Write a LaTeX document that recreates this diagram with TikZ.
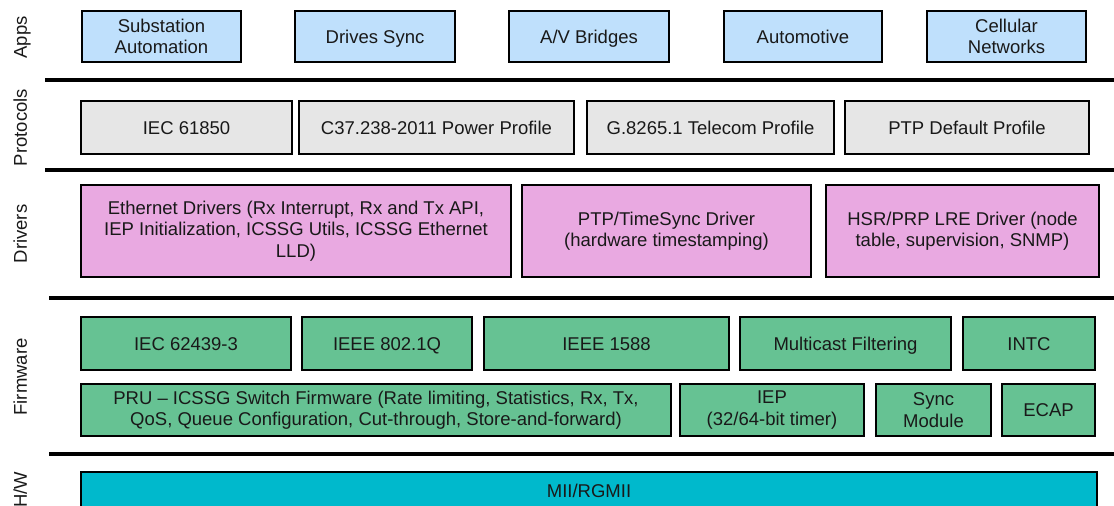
\documentclass[tikz,border=0pt]{standalone}
\usepackage{fontspec}
\setmainfont{Liberation Sans}
\definecolor{appblue}{HTML}{BFE0FC}
\definecolor{protogray}{HTML}{E6E6E6}
\definecolor{drvpink}{HTML}{E9A9E1}
\definecolor{fwgreen}{HTML}{66C293}
\definecolor{hwcyan}{HTML}{00B9CC}
\tikzset{
  layerbox/.style={draw=black, line width=2pt, inner sep=2pt, align=center,
    font=\fontsize{18.5}{21.5}\selectfont, text=black!90},
  oneline/.style={text height=13.3pt, text depth=0pt},
  appbox/.style={layerbox, fill=appblue},
  protobox/.style={layerbox, fill=protogray},
  drvbox/.style={layerbox, fill=drvpink},
  fwbox/.style={layerbox, fill=fwgreen},
  hwbox/.style={layerbox, fill=hwcyan},
  separator/.style={line width=4.5pt, black},
  sidelabel/.style={rotate=90, anchor=base, inner sep=0pt,
    font=\fontsize{18.5}{21.5}\selectfont, text=black!90},
}
\newcommand{\blk}[6]{% style, name, left, top, right, bottom; the text follows
  \node[#1, minimum width={(#5)-(#3)-2}, minimum height={(#6)-(#4)-2}]
    (#2) at ({((#3)+(#5))/2}, {((#4)+(#6))/2})}
\begin{document}
\begin{tikzpicture}[x=1pt, y=-1pt]
\useasboundingbox (0,0) rectangle (1114,506);
\begin{scope}
\clip (0,0) rectangle (1114,506);

% layer separators
\coordinate (s1a) at (45,80);   \coordinate (s1b) at (1120,80);
\coordinate (s2a) at (45,170);  \coordinate (s2b) at (1120,170);
\coordinate (s3a) at (49,298);  \coordinate (s3b) at (1120,298);
\coordinate (s4a) at (49,454);  \coordinate (s4b) at (1120,454);
\draw[separator] (s1a) -- (s1b);
\draw[separator] (s2a) -- (s2b);
\draw[separator] (s3a) -- (s3b);
\draw[separator] (s4a) -- (s4b);

% side labels
\node[sidelabel] (lapps) at (27,37.5) {Apps};
\node[sidelabel] (lproto) at (27,127.5) {Protocols};
\node[sidelabel] (ldrv) at (27,234) {Drivers};
\node[sidelabel] (lfw) at (27,377) {Firmware};
\node[sidelabel] (lhw) at (27,490) {H/W};

% applications
\blk{appbox}{a1}{81}{10}{242}{63} {Substation\\Automation};
\blk{appbox,oneline}{a2}{294}{10}{456}{63} {Drives Sync};
\blk{appbox,oneline}{a3}{508}{10}{670}{63} {A/V Bridges};
\blk{appbox,oneline}{a4}{723}{10}{883}{63} {Automotive};
\blk{appbox}{a5}{926}{10}{1087}{63} {Cellular\\Networks};

% protocols
\blk{protobox,oneline}{p1}{80}{100}{293}{155} {IEC 61850};
\blk{protobox,oneline}{p2}{298}{100}{575}{155} {C37.238-2011 Power Profile};
\blk{protobox,oneline}{p3}{586}{100}{835}{155} {G.8265.1 Telecom Profile};
\blk{protobox,oneline}{p4}{844}{100}{1090}{155} {PTP Default Profile};

% drivers
\blk{drvbox}{d1}{80}{184}{512}{278} {Ethernet Drivers (Rx Interrupt, Rx and Tx API,\\IEP Initialization, ICSSG Utils, ICSSG Ethernet\\LLD)};
\blk{drvbox}{d2}{521}{184}{812}{278} {PTP/TimeSync Driver\\(hardware timestamping)};
\blk{drvbox}{d3}{825}{184}{1100}{278} {HSR/PRP LRE Driver (node\\table, supervision, SNMP)};

% firmware, upper row
\blk{fwbox,oneline}{f1}{80}{316}{292}{371} {IEC 62439-3};
\blk{fwbox,oneline}{f2}{301}{316}{473}{371} {IEEE 802.1Q};
\blk{fwbox,oneline}{f3}{483}{316}{730}{371} {IEEE 1588};
\blk{fwbox,oneline}{f4}{739}{316}{952}{371} {Multicast Filtering};
\blk{fwbox,oneline}{f5}{962}{316}{1096}{371} {INTC};

% firmware, lower row
\blk{fwbox}{g1}{80}{383}{672}{437} {PRU -- ICSSG Switch Firmware (Rate limiting, Statistics, Rx, Tx,\\QoS, Queue Configuration, Cut-through, Store-and-forward)};
\blk{fwbox}{g2}{679}{383}{865}{437} {IEP\\(32/64-bit timer)};
\blk{fwbox}{g3}{875}{383}{992}{437} {Sync\\Module};
\blk{fwbox,oneline}{g4}{1001}{383}{1096}{437} {ECAP};

% hardware
\node[hwbox, minimum width=1016, minimum height=40] (h1) at (589,492) {};
\node[layerbox, draw=none, fill=none, oneline] (h1t) at (589,490.5) {MII/RGMII};
\end{scope}
\end{tikzpicture}
\end{document}
